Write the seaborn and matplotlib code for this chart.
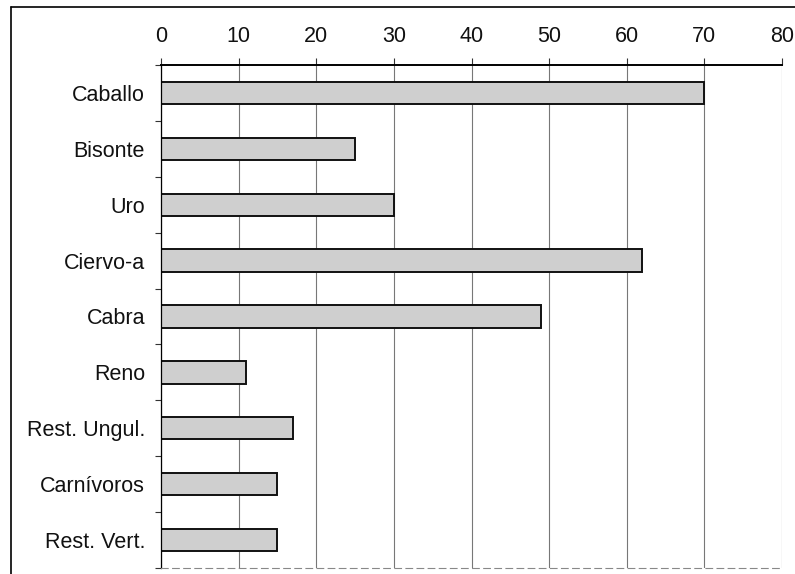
import numpy as np
import pandas as pd
import matplotlib
matplotlib.use('Agg')
import matplotlib.pyplot as plt
from matplotlib.lines import Line2D
import seaborn as sns

# data
especies = ['Caballo', 'Bisonte', 'Uro', 'Ciervo-a', 'Cabra', 'Reno',
            'Rest. Ungul.', 'Carnívoros', 'Rest. Vert.']
valores = [70, 25, 30, 62, 49, 11, 17, 15, 15]
x_ticks = [0, 10, 20, 30, 40, 50, 60, 70, 80]

df = pd.DataFrame({'Especie': especies, 'Valor': valores})

sns.set_style('white')
plt.rcParams['font.family'] = ['Liberation Sans', 'DejaVu Sans']

fig = plt.figure(figsize=(7.95, 5.74), dpi=100)
ax = fig.add_axes([161 / 795, 1 - 568 / 574, (782 - 161) / 795, (568 - 65) / 574])

sns.barplot(data=df, x='Valor', y='Especie', orient='h', color='#cfcfcf',
            edgecolor='#111111', linewidth=1.4, width=0.4, saturation=1, ax=ax)

ax.set_xlim(0, 80)
ax.set_ylim(len(especies) - 0.5, -0.5)
ax.set_xticks(x_ticks)
ax.xaxis.tick_top()
ax.set_xlabel('')
ax.set_ylabel('')
ax.grid(axis='x', color='#777777', linewidth=0.8)
ax.set_axisbelow(True)

ax.tick_params(axis='x', top=True, direction='out', length=5, width=0.8,
               pad=8, labelsize=15.5, color='#333333', labelcolor='#111111')
ax.tick_params(axis='y', which='major', left=False, length=0, pad=11.5,
               labelsize=15.5, labelcolor='#111111')
ax.set_yticks(np.arange(len(especies) + 1) - 0.5, minor=True)
ax.tick_params(axis='y', which='minor', left=True, direction='out', length=4,
               width=0.8, color='#333333')

for s in ['top', 'left']:
    ax.spines[s].set_visible(True)
    ax.spines[s].set_color('black')
ax.spines['top'].set_linewidth(1.4)
ax.spines['left'].set_linewidth(0.9)
ax.spines['right'].set_visible(False)
ax.spines['bottom'].set_visible(True)
ax.spines['bottom'].set_color('#888888')
ax.spines['bottom'].set_linestyle((0, (6, 4)))
ax.spines['bottom'].set_linewidth(0.8)

# outer frame of the chart
fx, fy = 11 / 795, 1 - 7 / 574
fig.add_artist(Line2D([fx, fx], [fy, 0], color='black', linewidth=1.2))
fig.add_artist(Line2D([fx, 1], [fy, fy], color='black', linewidth=1.2))

fig.savefig('out.png', dpi=100, facecolor='white')
